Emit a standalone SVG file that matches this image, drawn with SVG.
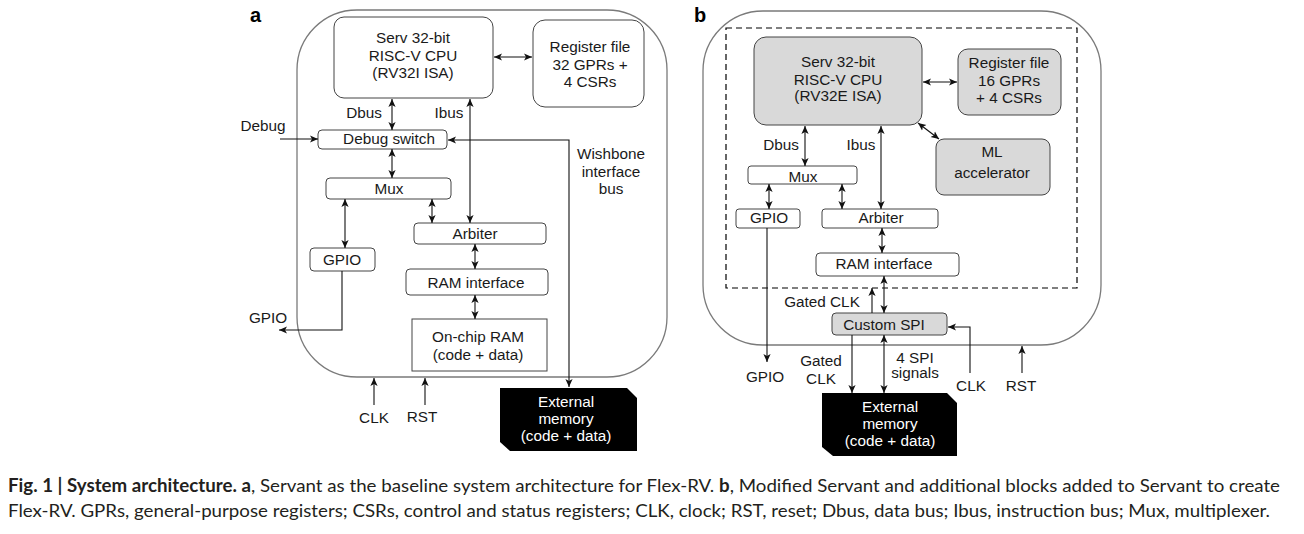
<svg xmlns="http://www.w3.org/2000/svg" width="1304" height="534" viewBox="0 0 1304 534">
<defs>
<marker id="ah" viewBox="0 0 10 10" refX="10" refY="5" markerWidth="8" markerHeight="8" markerUnits="userSpaceOnUse" orient="auto-start-reverse">
<path d="M0,0.5 L10,5 L0,9.5 L2.5,5 z" fill="#111"/>
</marker>
</defs>
<style>
text{font-family:"Liberation Sans",Arial,sans-serif;font-size:15.3px;fill:#1a1a1a;text-anchor:middle}
.outer{fill:none;stroke:#7a7a7a;stroke-width:1.3}
.box{fill:#fff;stroke:#444;stroke-width:1}
.grey{fill:#d9d9d9;stroke:#444;stroke-width:1}
.ext{fill:#000}
.ext text{fill:#fff}
.w{fill:#fff}
.lbl{font-weight:bold;font-size:20px;text-anchor:start;fill:#000}
.c{fill:none;stroke:#111;stroke-width:1.1}
.b2{marker-start:url(#ah);marker-end:url(#ah)}
.e1{marker-end:url(#ah)}
.dash{fill:none;stroke:#000;stroke-width:1.2;stroke-dasharray:6 4}
.cap{font-family:Lato,"Liberation Sans",sans-serif;font-size:18px;text-anchor:start;fill:#231f20}
</style>

<text class="lbl" x="250" y="22">a</text>
<text class="lbl" x="694" y="22">b</text>

<!-- Panel a -->
<g id="a-chip"><rect class="outer" x="297" y="10" width="370" height="367" rx="60"/></g>
<g id="a-cpu"><rect class="box" x="334" y="17" width="159" height="81" rx="10"/>
<text x="413" y="43">Serv 32-bit</text><text x="413" y="61">RISC-V CPU</text><text x="413" y="78">(RV32I ISA)</text></g>
<g id="a-reg"><rect class="box" x="533" y="20" width="111" height="87" rx="12"/>
<text x="590" y="52">Register file</text><text x="590" y="70">32 GPRs +</text><text x="590" y="87">4 CSRs</text></g>
<g id="a-dbg"><rect class="box" x="318" y="130" width="129" height="19" rx="4"/><text x="389" y="144">Debug switch</text></g>
<g id="a-mux"><rect class="box" x="326" y="178" width="125" height="21" rx="4"/><text x="389" y="194">Mux</text></g>
<g id="a-arb"><rect class="box" x="414" y="223" width="132" height="21" rx="4"/><text x="475" y="239">Arbiter</text></g>
<g id="a-ramif"><rect class="box" x="406" y="269" width="142" height="26" rx="4"/><text x="476" y="288">RAM interface</text></g>
<g id="a-ram"><rect class="box" x="412" y="319" width="135" height="52"/><text x="478" y="342">On-chip RAM</text><text x="478" y="360">(code + data)</text></g>
<g id="a-gpio"><rect class="box" x="310" y="248" width="65" height="23" rx="4"/><text x="342" y="265">GPIO</text></g>
<g id="a-ext" class="ext"><polygon points="500,388 627,388 637,398 637,451 510,451 500,442"/>
<text class="w" x="566" y="407">External</text><text class="w" x="566" y="424">memory</text><text class="w" x="566" y="441">(code + data)</text></g>
<g id="a-labels">
<text x="364" y="118">Dbus</text><text x="449" y="118">Ibus</text><text x="263" y="131">Debug</text>
<text x="611" y="159">Wishbone</text><text x="611" y="177">interface</text><text x="611" y="194">bus</text>
<text x="268" y="323">GPIO</text><text x="374" y="423">CLK</text><text x="422" y="422">RST</text>
</g>

<g id="a-connectors">
<line class="c b2" x1="494" y1="57" x2="532" y2="57"/>
<line class="c b2" x1="392" y1="99" x2="392" y2="130"/>
<line class="c b2" x1="470" y1="99" x2="470" y2="223"/>
<line class="c e1" x1="280" y1="139" x2="318" y2="139"/>
<path class="c b2" d="M448,140 H569 V387"/>
<line class="c b2" x1="392" y1="149" x2="392" y2="178"/>
<line class="c b2" x1="345" y1="199" x2="345" y2="248"/>
<line class="c b2" x1="432" y1="199" x2="432" y2="223"/>
<line class="c b2" x1="475" y1="244" x2="475" y2="269"/>
<line class="c b2" x1="475" y1="295" x2="475" y2="319"/>
<path class="c e1" d="M342,271 V330 H279"/>
<line class="c e1" x1="374" y1="405" x2="374" y2="378"/>
<line class="c e1" x1="425" y1="405" x2="425" y2="378"/>
</g>

<!-- Panel b -->
<g id="b-chip"><rect class="outer" x="703" y="11" width="398" height="334" rx="60"/>
<rect class="dash" x="726" y="28" width="351" height="260"/></g>
<g id="b-cpu"><rect class="grey" x="754" y="37" width="168" height="88" rx="12"/>
<text x="838" y="67">Serv 32-bit</text><text x="838" y="85">RISC-V CPU</text><text x="838" y="101">(RV32E ISA)</text></g>
<g id="b-reg"><rect class="grey" x="958" y="49" width="103" height="66" rx="10"/>
<text x="1009" y="68">Register file</text><text x="1009" y="86">16 GPRs</text><text x="1009" y="103">+ 4 CSRs</text></g>
<g id="b-ml"><rect class="grey" x="936" y="139" width="114" height="56" rx="8"/>
<text x="992" y="157">ML</text><text x="992" y="178">accelerator</text></g>
<g id="b-mux"><rect class="box" x="748" y="166" width="109" height="18" rx="3"/><text x="803" y="182">Mux</text></g>
<g id="b-gpio"><rect class="box" x="736" y="209" width="64" height="19" rx="3"/><text x="769" y="223">GPIO</text></g>
<g id="b-arb"><rect class="box" x="822" y="209" width="116" height="19" rx="3"/><text x="881" y="223">Arbiter</text></g>
<g id="b-ramif"><rect class="box" x="816" y="253" width="143" height="23" rx="4"/><text x="884" y="269">RAM interface</text></g>
<g id="b-spi"><rect class="grey" x="832" y="313" width="115" height="22" rx="4"/><text x="884" y="330">Custom SPI</text></g>
<g id="b-ext" class="ext"><polygon points="822,393 947,393 957,403 957,456 833,456 822,447"/>
<text class="w" x="890" y="412">External</text><text class="w" x="890" y="429">memory</text><text class="w" x="890" y="446">(code + data)</text></g>
<g id="b-labels">
<text x="781" y="150">Dbus</text><text x="861" y="150">Ibus</text>
<text x="822" y="307">Gated CLK</text>
<text x="765" y="382">GPIO</text>
<text x="821" y="366">Gated</text><text x="821" y="384">CLK</text>
<text x="915" y="363">4 SPI</text><text x="915" y="378">signals</text>
<text x="971" y="391">CLK</text><text x="1021" y="391">RST</text>
</g>

<g id="b-connectors">
<line class="c b2" x1="923" y1="82" x2="957" y2="82"/>
<line class="c b2" x1="918" y1="123" x2="939" y2="139"/>
<line class="c b2" x1="805" y1="126" x2="805" y2="166"/>
<line class="c b2" x1="881" y1="126" x2="881" y2="209"/>
<line class="c b2" x1="769" y1="184" x2="769" y2="209"/>
<line class="c b2" x1="842" y1="184" x2="842" y2="209"/>
<line class="c b2" x1="882" y1="228" x2="882" y2="253"/>
<line class="c b2" x1="884" y1="276" x2="884" y2="313"/>
<line class="c e1" x1="872" y1="313" x2="872" y2="288"/>
<path class="c e1" d="M970,373 V327 H948"/>
<line class="c e1" x1="1022" y1="373" x2="1022" y2="346"/>
<line class="c e1" x1="767" y1="228" x2="767" y2="362"/>
<line class="c e1" x1="852" y1="335" x2="852" y2="393"/>
<line class="c b2" x1="884" y1="335" x2="884" y2="393"/>
</g>

<g id="caption">
<text class="cap" x="8" y="492" textLength="1272" lengthAdjust="spacingAndGlyphs"><tspan font-weight="bold">Fig. 1 | System architecture. a</tspan>, Servant as the baseline system architecture for Flex-RV. <tspan font-weight="bold">b</tspan>, Modified Servant and additional blocks added to Servant to create</text>
<text class="cap" x="8" y="517" textLength="1262" lengthAdjust="spacingAndGlyphs">Flex-RV. GPRs, general-purpose registers; CSRs, control and status registers; CLK, clock; RST, reset; Dbus, data bus; Ibus, instruction bus; Mux, multiplexer.</text>
</g>
</svg>
